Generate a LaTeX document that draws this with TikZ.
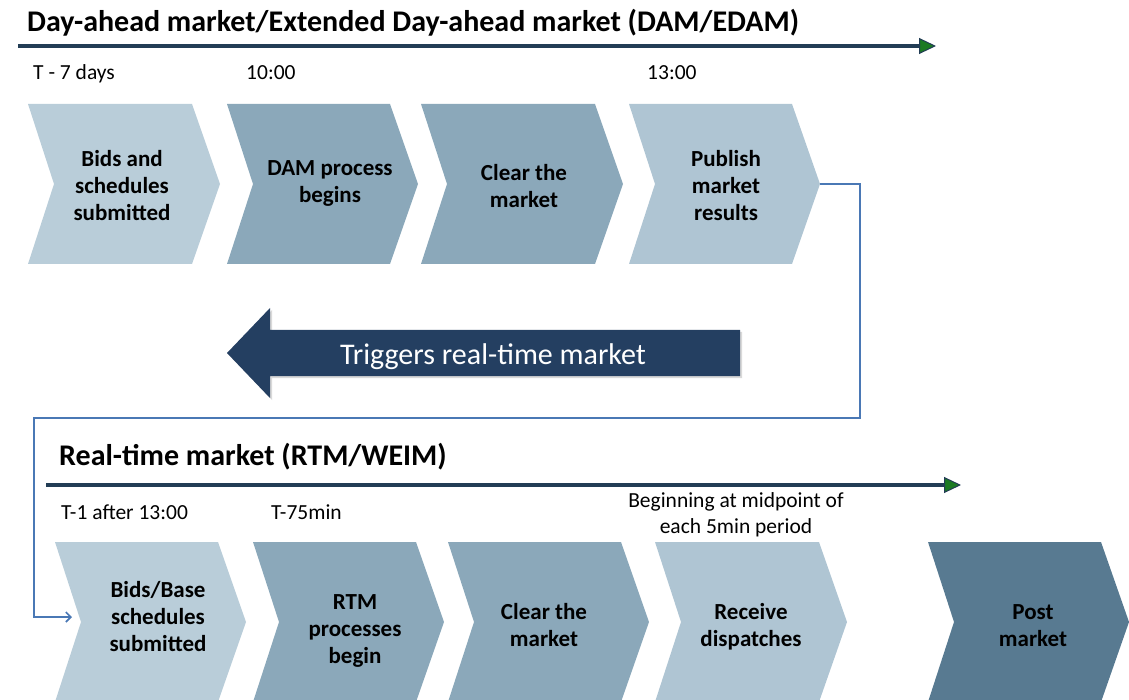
\documentclass[tikz,border=0pt]{standalone}
\usepackage{fontspec}
\setmainfont{Carlito}
\usetikzlibrary{arrows.meta,shadows}

\definecolor{paleblue}{HTML}{B9CDD9}
\definecolor{greyblue}{HTML}{8BA8BA}
\definecolor{softblue}{HTML}{AFC5D3}
\definecolor{slateblue}{HTML}{587A91}
\definecolor{navyfill}{HTML}{243F61}
\definecolor{rulecol}{HTML}{223D55}
\definecolor{headgreen}{HTML}{1B7A22}
\definecolor{linkcol}{HTML}{4A78B5}

% chevron step: name, left x, top y, width (to tip), fill, label, label x, label y
\newcommand\stepchev[8]{%
  \fill[#5] (#2,#3) -- ({#2+#4-28},#3) -- ({#2+#4},{#3+80})
    -- ({#2+#4-28},{#3+160}) -- (#2,{#3+160}) -- ({#2+26},{#3+80}) -- cycle;
  \coordinate (#1-tip) at ({#2+#4},{#3+80});
  \coordinate (#1-notch) at ({#2+26},{#3+80});
  \node[steptext] (#1) at (#7,#8) {#6};
}

\begin{document}
\begin{tikzpicture}[x=1pt,y=-1pt,
  heading/.style={font=\fontsize{30}{34}\selectfont\bfseries, anchor=base west, inner sep=0pt},
  stamp/.style={font=\fontsize{21.5}{26}\selectfont, anchor=base west, inner sep=0pt},
  steptext/.style={font=\fontsize{23}{27}\selectfont\bfseries, align=center, inner sep=0pt, text=black},
  timeline/.style={line width=4pt, draw=rulecol,
    -{Triangle[length=17pt,width=16pt,line width=1pt,fill=headgreen]}},
  link/.style={draw=linkcol, line width=1.6pt},
]
\useasboundingbox (0,0) rectangle (1129,700);

% ---- day-ahead market ----
\node[heading] (damtitle) at (27,32) {Day-ahead market/Extended Day-ahead market (DAM/EDAM)};
\coordinate (damstart) at (18,46);
\coordinate (damend) at (936,46);
\draw[timeline] (damstart) -- (damend);

\node[stamp] (tseven) at (33,80) {T - 7 days};
\node[stamp] (tten) at (246,80) {10:00};
\node[stamp] (tthirteen) at (647,80) {13:00};

\stepchev{bids}{28}{104}{192}{paleblue}{Bids and\\schedules\\submitted}{122}{186}
\stepchev{dam}{227}{104}{191}{greyblue}{DAM process\\begins}{330}{183}
\stepchev{clear}{421}{104}{202}{greyblue}{Clear the\\market}{524}{186}
\stepchev{pub}{629}{104}{191}{softblue}{Publish\\market\\results}{726}{186}

% ---- trigger arrow ----
\fill[navyfill, drop shadow={opacity=0.3, shadow xshift=2pt, shadow yshift=-2pt}]
  (740,330) -- (270,330) -- (270,308) -- (227,353) -- (270,398) -- (270,376) -- (740,376) -- cycle;
\node[font=\fontsize{30}{36}\selectfont, text=white, anchor=base, inner sep=0pt] (trig) at (493,364) {Triggers real-time market};

% ---- real-time market ----
\node[heading] (rtmtitle) at (59,465) {Real-time market (RTM/WEIM)};
\coordinate (rtmstart) at (46,485);
\coordinate (rtmend) at (961,485);
\draw[timeline] (rtmstart) -- (rtmend);

\node[stamp] (tone) at (61,519) {T-1 after 13:00};
\node[stamp] (tsevfive) at (271,519) {T-75min};
\node[font=\fontsize{21.5}{26}\selectfont, align=center, inner sep=0pt] (mid) at (736,515) {Beginning at midpoint of\\each 5min period};

\stepchev{sub}{55}{542}{191}{paleblue}{Bids/Base\\schedules\\submitted}{158}{617}
\stepchev{rtm}{253}{542}{191}{greyblue}{RTM\\processes\\begin}{355}{631}
\stepchev{clearrt}{448}{542}{201}{greyblue}{Clear the\\market}{544}{625}
\stepchev{recv}{655}{542}{192}{softblue}{Receive\\dispatches}{751}{627}
\stepchev{post}{928}{542}{201}{slateblue}{Post\\market}{1033}{626}

% ---- hand-off from day-ahead results to real-time bids ----
\coordinate (loopR) at (860,418);
\coordinate (loopL) at (34,418);
\coordinate (feed) at (72,617);
\draw[link, -{Straight Barb[length=5pt,width=10pt]}] (pub-tip) -| (loopR) -- (loopL) |- (feed);
\end{tikzpicture}
\end{document}
